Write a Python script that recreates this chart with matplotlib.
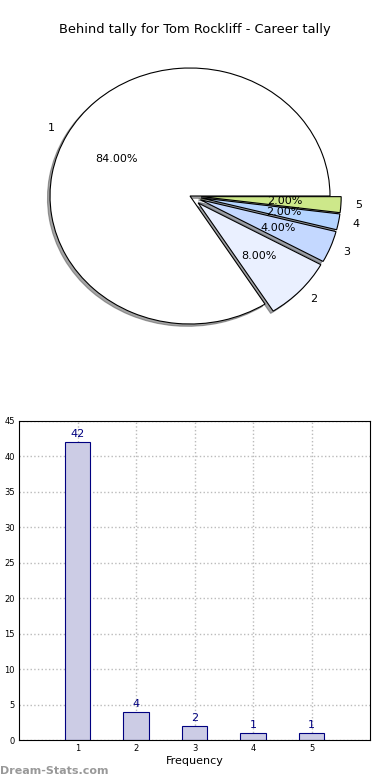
import matplotlib
matplotlib.use("Agg")
import matplotlib.pyplot as plt

labels = ["1", "2", "3", "4", "5"]
counts = [42, 4, 2, 1, 1]
pie_colors = ["#FFFFFF", "#EAF0FF", "#C4D8FF", "#B4D4FF", "#CDE88A"]
explode = [0, 0.08, 0.08, 0.08, 0.08]
title = "Behind tally for Tom Rockliff - Career tally"

W, H = 390, 780
fig = plt.figure(figsize=(W / 100, H / 100), dpi=100)

# Pie axes
ax1 = fig.add_axes([15 / W, (H - 356) / H, 350 / W, 320 / H])
wedges, texts, autotexts = ax1.pie(
    counts, labels=labels, colors=pie_colors, explode=explode,
    autopct="%.2f%%", shadow=dict(ox=-0.013, oy=-0.013),
    wedgeprops=dict(edgecolor="black", linewidth=0.8),
    textprops=dict(fontsize=8))
ax1.set_aspect("auto")
ax1.set_xlim(-1.25, 1.25)
ax1.set_ylim(-1.25, 1.25)
fig.text(195 / W, 1 - 30 / H, title, ha="center", va="center", fontsize=9.4)

# Bar axes
ax2 = fig.add_axes([19 / W, (H - 740) / H, 351 / W, 319 / H])
x = list(range(1, len(counts) + 1))
ax2.bar(x, counts, width=0.44, color="#CCCCE5", edgecolor="#000080", linewidth=0.8, zorder=2)
for xi, c in zip(x, counts):
    ax2.text(xi, c + 0.4, str(c), ha="center", va="bottom", color="#000080", fontsize=8)
ax2.set_xlim(0, 6)
ax2.set_ylim(0, 45)
ax2.set_xticks(x)
ax2.set_xticklabels(labels)
ax2.set_yticks(range(0, 46, 5))
ax2.tick_params(labelsize=6, length=0, pad=3)
ax2.grid(True, linestyle=":", color="#BBBBBB", linewidth=1, zorder=0)
ax2.set_axisbelow(True)
ax2.set_xlabel("Frequency", fontsize=8, labelpad=2)

fig.text(0, 1 - 771 / H, "Dream-Stats.com", ha="left", va="center",
         color="#999999", fontsize=8, fontweight="bold")

fig.savefig("out.png", dpi=100)
